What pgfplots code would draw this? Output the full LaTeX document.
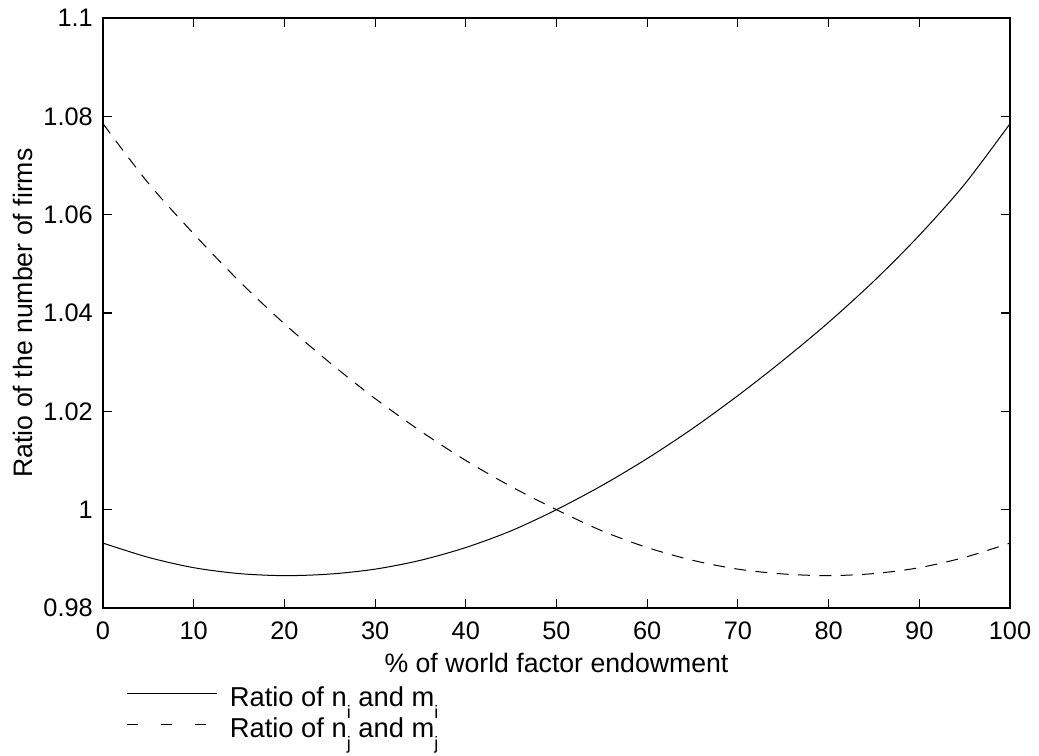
\documentclass[border=0pt]{standalone}
\usepackage{pgfplots}
\pgfplotsset{compat=1.18}
\usepackage{pgfplotstable}
\usepackage{fontspec}
\setmainfont{Liberation Sans}

\pgfplotstableread{
x y
0 0.9932
5 0.9903
10 0.9882
15 0.9870
20 0.98658
25 0.9869
30 0.9879
35 0.9897
40 0.9923
45 0.9957
50 1.0000
55 1.0049
60 1.0104
65 1.0165
70 1.0232
75 1.0304
80 1.0381
85 1.0465
90 1.0558
95 1.0662
100 1.0785
}\solid

\pgfplotstableread{
x y
0 1.0785
5 1.0664
10 1.0561
15 1.0465
20 1.0378
25 1.0299
30 1.0226
35 1.0160
40 1.0100
45 1.0047
50 1.0000
55 0.9957
60 0.9923
65 0.9897
70 0.9879
75 0.98692
80 0.98658
85 0.9870
90 0.9882
95 0.9903
100 0.9932
}\dashedtab

\newcommand{\legfont}{\fontsize{20.5}{24}\selectfont}
\newcommand{\sub}[1]{\raisebox{-9pt}[0pt][0pt]{\fontsize{13.5}{16}\selectfont #1}}

\begin{document}
\begin{tikzpicture}
\begin{axis}[
  scale only axis,
  width=680.25pt, height=442.5pt,
  xmin=0, xmax=100, ymin=0.98, ymax=1.1,
  xtick={0,10,...,100},
  ytick={0.98,1.00,1.02,1.04,1.06,1.08,1.1},
  yticklabels={0.98,1,1.02,1.04,1.06,1.08,1.1},
  tick align=inside,
  major tick length=7pt,
  axis line style={line width=1pt},
  every tick/.style={black, line width=0.8pt},
  /pgf/number format/assume math mode=true,
  tick label style={font=\fontsize{19}{22}\selectfont},
  xticklabel style={anchor=base, inner sep=0pt, yshift=-24pt},
  yticklabel style={anchor=east, inner sep=0pt, xshift=-7.5pt},
  xlabel={\% of world factor endowment},
  ylabel={Ratio of the number of firms},
  label style={font=\fontsize{20}{24}\selectfont, inner sep=0pt},
  xlabel style={at={(axis description cs:0.5,-0.1085)}, anchor=base},
  ylabel style={at={(axis description cs:-0.0772,0.5)}, anchor=south},
  legend style={at={(axis description cs:0.026,-0.133)}, anchor=north west,
    draw=none, fill=none, inner sep=0pt, row sep=7pt, column sep=0pt,
    font=\legfont, nodes={inner sep=0pt}},
  legend cell align=left,
  legend image code/.code={\draw[#1] (0pt,3pt) -- (67.5pt,3pt);},
]
\addplot[black, line width=0.75pt, smooth, tension=0.5] table[x=x,y=y] {\solid};
\addlegendentry{\legfont\hspace{9pt}Ratio of n\sub{i} and m\sub{i}}
\addplot[black, line width=0.75pt, smooth, tension=0.5, dash pattern=on 9pt off 7pt, forget plot] table[x=x,y=y] {\dashedtab};
\addlegendimage{black, line width=0.75pt, dash pattern=on 8.25pt off 17.25pt}
\addlegendentry{\legfont\hspace{9pt}Ratio of n\sub{j} and m\sub{j}}
\end{axis}
\path (current axis.south west) ++(-77.25pt,-111pt) rectangle ++(779.25pt,567pt);
\end{tikzpicture}
\end{document}
